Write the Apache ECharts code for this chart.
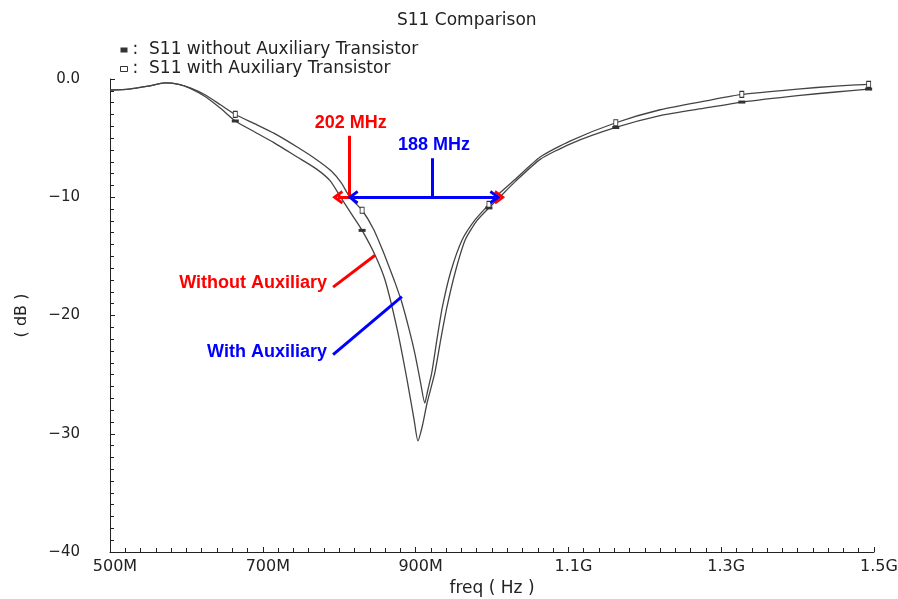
<!DOCTYPE html>
<html>
<head>
<meta charset="utf-8">
<script src="https://cdn.jsdelivr.net/npm/echarts@6/dist/echarts.min.js"></script>
<style>
  html, body { margin: 0; padding: 0; background: #fff; }
  #chart { width: 898px; height: 599px; }
</style>
</head>
<body>
<div id="chart"></div>
<script>
// S11 curves, freq in MHz, value in dB
var freqWithout = [500, 525, 550, 572, 590, 605, 625, 645, 664, 690, 715, 745, 770, 788, 802, 816, 830, 847, 860, 876, 889, 898, 903, 909, 915, 925, 933, 941, 952, 965, 980, 996, 1010, 1030, 1063, 1102, 1162, 1220, 1280, 1327, 1400, 1450, 1493];
var dbWithout   = [-0.93, -0.85, -0.6, -0.33, -0.45, -0.8, -1.5, -2.5, -3.55, -4.5, -5.4, -6.6, -7.6, -8.6, -10.0, -11.4, -12.8, -14.9, -17.0, -21.2, -25.5, -28.8, -30.6, -29.3, -27.4, -24.9, -22.0, -19.3, -16.3, -13.6, -12.0, -10.9, -10.0, -8.7, -6.8, -5.5, -4.1, -3.1, -2.45, -1.95, -1.4, -1.1, -0.85];

var freqWith = [500, 525, 550, 572, 590, 605, 625, 645, 664, 690, 715, 745, 770, 790, 803, 814, 830, 845, 857, 866, 873, 882, 892, 899, 906, 912, 916, 921, 928, 935, 946, 961, 978, 996, 1004, 1030, 1063, 1102, 1162, 1220, 1280, 1327, 1400, 1450, 1493];
var dbWith   = [-0.93, -0.85, -0.6, -0.33, -0.45, -0.75, -1.35, -2.2, -3.0, -3.8, -4.6, -5.75, -6.8, -7.8, -8.8, -10.0, -11.1, -12.7, -14.5, -16.0, -17.2, -18.9, -21.3, -23.2, -25.5, -27.4, -26.3, -24.9, -22.0, -19.3, -16.3, -13.6, -11.9, -10.6, -10.0, -8.5, -6.6, -5.25, -3.7, -2.6, -1.85, -1.3, -0.85, -0.6, -0.45];

var markerFreqs = [664, 830, 996, 1162, 1327, 1493];

var seriesNames = ['S11 without Auxiliary Transistor', 'S11 with Auxiliary Transistor'];

// bandwidth annotations (MHz, dB)
var bwWithout = [798, 1010];   // 202 MHz arrow ends
var bwWith = [818, 1004];      // 188 MHz arrow ends
var bwLevel = -10;

var chart = echarts.init(document.getElementById('chart'));

var FONT = 'DejaVu Sans';
var chevron = 'path://M0,12 L10,0 L20,12 L16.5,14 L10,6 L3.5,14 Z';

function buildData(freqs, dbs, sym, size) {
    return freqs.map(function (f, i) {
        var item = { value: [f, dbs[i]] };
        if (markerFreqs.indexOf(f) >= 0) {
            item.symbol = sym;
            item.symbolSize = size;
        }
        return item;
    });
}

function arrowLine(x1, x2, color) {
    var ls = { color: color, width: 3, type: 'solid' };
    return [
        { coord: [x1, bwLevel], symbol: chevron, symbolSize: [14, 11], lineStyle: ls },
        { coord: [x2, bwLevel], symbol: chevron, symbolSize: [14, 11], lineStyle: ls }
    ];
}
function plainLine(p1, p2, color, w) {
    var ls = { color: color, width: w, type: 'solid' };
    return [
        { coord: p1, symbol: 'none', lineStyle: ls },
        { coord: p2, symbol: 'none', lineStyle: ls }
    ];
}

var option = {
    animation: false,
    backgroundColor: '#fff',
    title: {
        text: 'S11 Comparison',
        left: 392,
        top: 7,
        textStyle: { fontFamily: FONT, fontSize: 17, fontWeight: 'normal', color: '#222' }
    },
    legend: {
        orient: 'vertical',
        left: 115,
        top: 36,
        itemGap: 1,
        itemWidth: 7,
        itemHeight: 5,
        selectedMode: false,
        formatter: function (name) { return ':  ' + name; },
        textStyle: { fontFamily: FONT, fontSize: 17, lineHeight: 18, color: '#222' },
        data: [
            { name: seriesNames[0], icon: 'rect', itemStyle: { color: '#333', borderWidth: 0 } },
            { name: seriesNames[1], icon: 'rect', itemStyle: { color: '#fff', borderColor: '#333', borderWidth: 1 } }
        ]
    },
    grid: { left: 110, right: 24, top: 79, bottom: 47, outerBoundsMode: 'none', containLabel: false },
    xAxis: {
        type: 'value',
        min: 500,
        max: 1500,
        interval: 200,
        name: 'freq ( Hz )',
        nameLocation: 'middle',
        nameGap: 27,
        nameTextStyle: { fontFamily: FONT, fontSize: 17, color: '#222' },
        axisLine: { onZero: false, lineStyle: { color: '#222', width: 1 } },
        axisTick: { inside: true, length: 5, lineStyle: { color: '#222' } },
        minorTick: { show: true, splitNumber: 10, length: 4, lineStyle: { color: '#222' } },
        splitLine: { show: false },
        axisLabel: {
            fontFamily: FONT, fontSize: 16, color: '#222', margin: 7,
            padding: [0, 0, 0, 10],
            formatter: function (v) { return v >= 1000 ? (v / 1000).toFixed(1) + 'G' : v + 'M'; }
        }
    },
    yAxis: {
        type: 'value',
        min: -40,
        max: 0,
        interval: 10,
        name: '( dB )',
        nameLocation: 'middle',
        nameGap: 80,
        nameRotate: 90,
        nameTextStyle: { fontFamily: FONT, fontSize: 16, color: '#222' },
        axisLine: { show: true, onZero: false, lineStyle: { color: '#222', width: 1 } },
        axisTick: { show: true, inside: true, length: 5, lineStyle: { color: '#222' } },
        minorTick: { show: true, splitNumber: 10, length: 4, lineStyle: { color: '#222' } },
        splitLine: { show: false },
        axisLabel: {
            fontFamily: FONT, fontSize: 15, color: '#222', margin: 30,
            padding: [0, 0, 8, 0],
            formatter: function (v) { return v === 0 ? '0.0' : '\u2212' + Math.abs(v); }
        }
    },
    series: [
        {
            name: seriesNames[0],
            type: 'line',
            symbol: 'none',
            showSymbol: true,
            smooth: 0.2,
            z: 3,
            lineStyle: { color: '#444', width: 1.3 },
            itemStyle: { color: '#333' },
            data: buildData(freqWithout, dbWithout, 'rect', [7, 3]),
            markLine: {
                silent: true,
                animation: false,
                label: { show: false },
                data: [
                    arrowLine(bwWithout[0], bwWithout[1], '#ff0000'),
                    plainLine([813, -4.8], [813, bwLevel], '#ff0000', 3),
                    plainLine([792, -17.6], [847, -14.9], '#ff0000', 3)
                ]
            }
        },
        {
            name: seriesNames[1],
            type: 'line',
            symbol: 'none',
            showSymbol: true,
            smooth: 0.2,
            z: 3,
            lineStyle: { color: '#444', width: 1.3 },
            itemStyle: { color: '#fff', borderColor: '#333', borderWidth: 1 },
            data: buildData(freqWith, dbWith, 'rect', [4, 6]),
            markLine: {
                silent: true,
                animation: false,
                label: { show: false },
                data: [
                    arrowLine(bwWith[0], bwWith[1], '#0000ff'),
                    plainLine([922, -6.7], [922, bwLevel], '#0000ff', 3),
                    plainLine([792, -23.3], [882, -18.4], '#0000ff', 3)
                ]
            }
        }
    ]
};

chart.setOption(option);

// annotation texts placed at data coordinates
function px(p) { return chart.convertToPixel({ gridIndex: 0 }, p); }
var notes = [
    { text: '202 MHz', at: [815, -3.7], color: '#ff0000', align: 'center' },
    { text: '188 MHz', at: [924, -5.6], color: '#0000ff', align: 'center' },
    { text: 'Without Auxiliary', at: [784, -17.25], color: '#ff0000', align: 'right' },
    { text: 'With Auxiliary', at: [784, -23.1], color: '#0000ff', align: 'right' }
];
chart.setOption({
    graphic: notes.map(function (n) {
        var p = px(n.at);
        return {
            type: 'text',
            x: p[0],
            y: p[1],
            z: 10,
            style: {
                text: n.text,
                fill: n.color,
                font: 'bold 18px "Liberation Sans", Arial, sans-serif',
                textAlign: n.align,
                textVerticalAlign: 'middle'
            }
        };
    })
});

window.addEventListener('resize', chart.resize);
</script>
</body>
</html>
